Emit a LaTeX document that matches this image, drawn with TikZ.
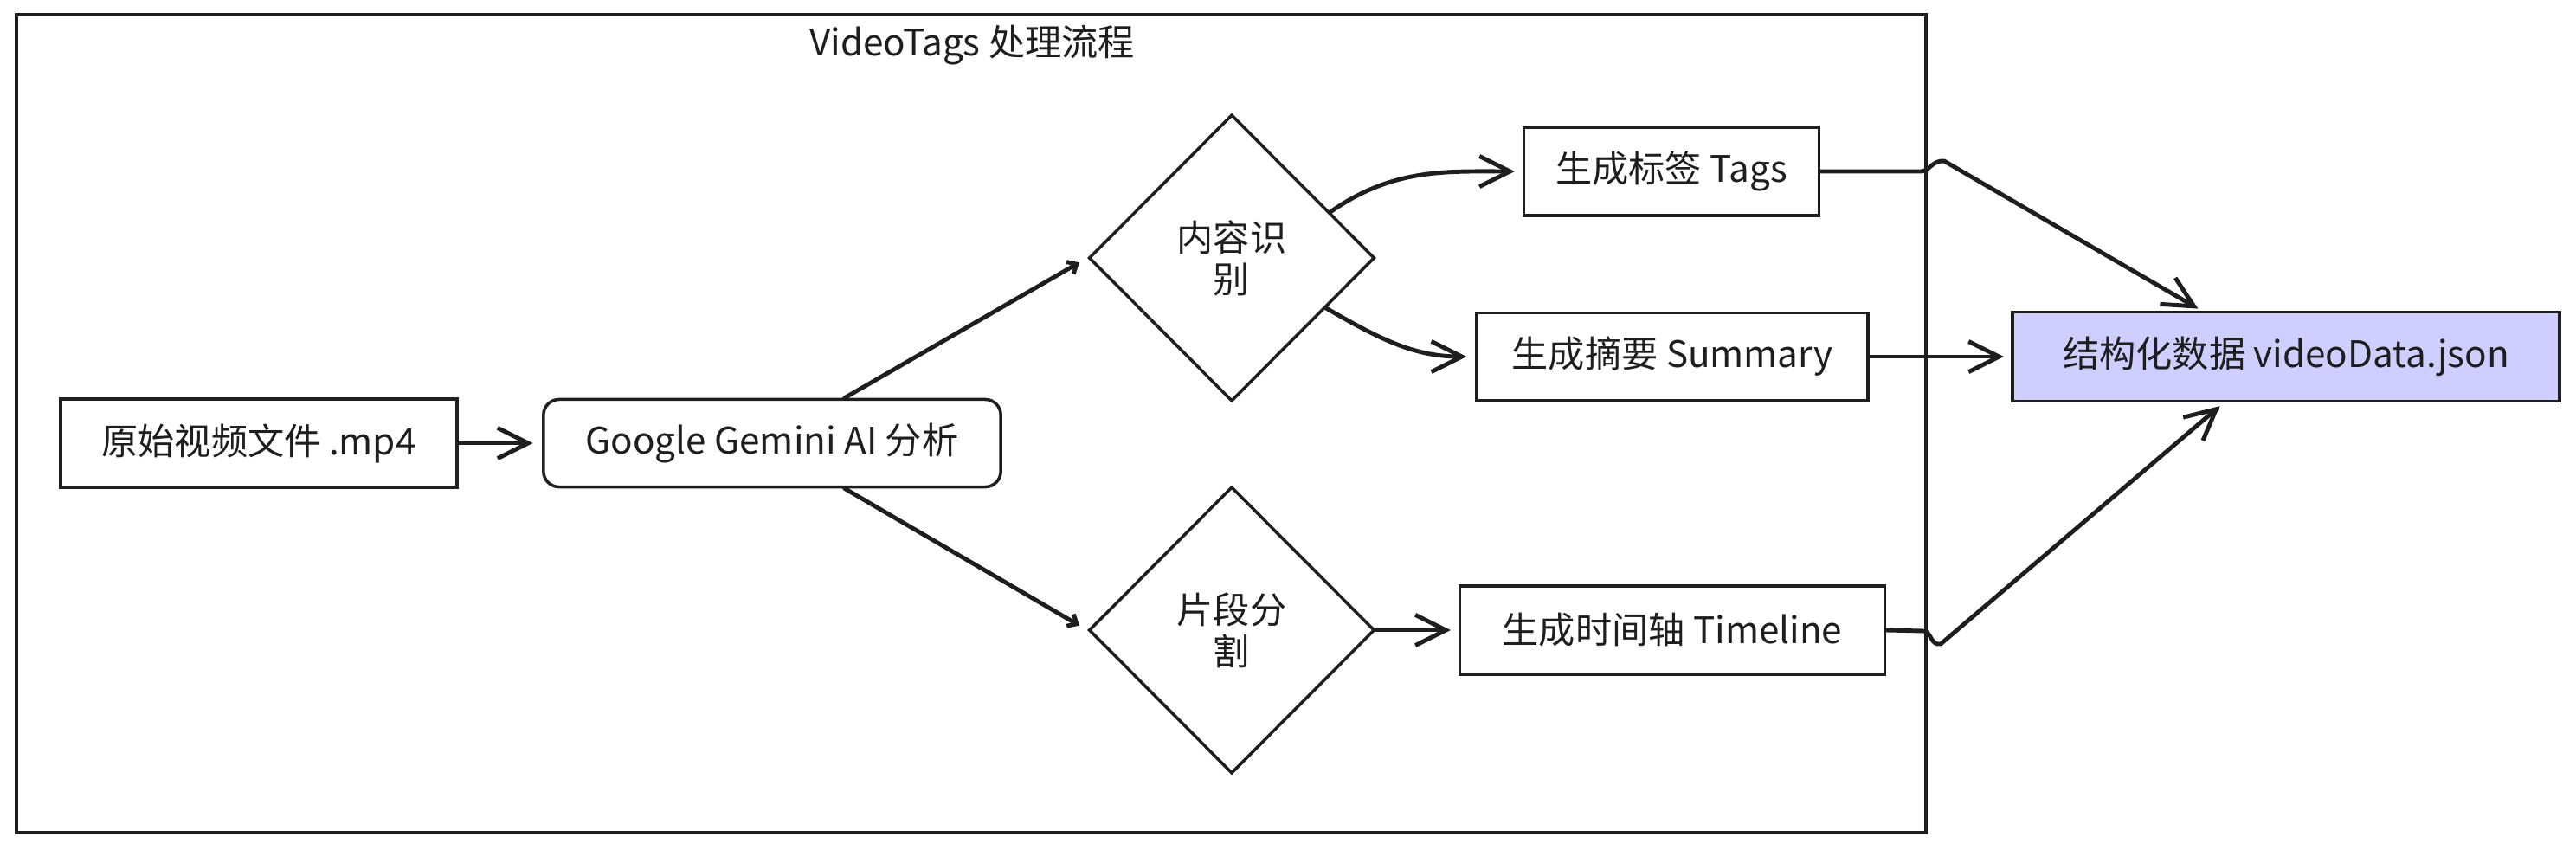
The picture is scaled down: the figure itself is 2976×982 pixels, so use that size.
\documentclass[tikz,border=0pt]{standalone}
\usepackage{fontspec}
\setmainfont{Noto Sans CJK SC}
\usetikzlibrary{shapes.geometric,arrows.meta,calc}
\definecolor{ink}{HTML}{1E1E1E}
\definecolor{lav}{RGB}{206,206,255}
\begin{document}
\begin{tikzpicture}[x=0.01cm,y=-0.01cm,
  every node/.style={font=\fontsize{12}{13.7}\selectfont, text=ink},
  box/.style={draw=ink, line width=1pt, rectangle, inner sep=0pt},
  dec/.style={draw=ink, line width=1pt, diamond, inner sep=0pt, minimum width=3.3cm, minimum height=3.31cm, align=center},
  conn/.style={draw=ink, line width=1.4pt, line cap=round, line join=round, -{Straight Barb[length=10pt,width=10pt]}},
  sconn/.style={draw=ink, line width=1.4pt, line cap=round, line join=round, -{Straight Barb[length=2.5pt,width=4.5pt]}}]
\useasboundingbox (0,0) rectangle (2976,982);
% frame
\draw[draw=ink, line width=1pt] (19,17) rectangle (2225,962);
\node (title) at (1123,52) {VideoTags 处理流程};
% nodes
\node[box, minimum width=4.58cm, minimum height=1.02cm] (mp4) at (299,512) {原始视频文件 .mp4};
\node[box, rounded corners=0.18cm, minimum width=5.28cm, minimum height=1.01cm] (gem) at (892,512) {Google Gemini AI 分析};
\node[dec] (dia1) at (1423,298) {内容识\\别};
\node[dec] (dia2) at (1423,728) {片段分\\割};
\node[box, minimum width=3.41cm, minimum height=1.02cm] (tags) at (1931,198) {生成标签 Tags};
\node[box, minimum width=4.52cm, minimum height=1.01cm] (sum) at (1932,412) {生成摘要 Summary};
\node[box, minimum width=4.91cm, minimum height=1.02cm] (tl) at (1932,728) {生成时间轴 Timeline};
\node[box, fill=lav, minimum width=6.32cm, minimum height=1.03cm] (json) at (2641,412) {结构化数据 videoData.json};
% hop coordinates
\coordinate (h1a) at (2219,198);
\coordinate (h1b) at (2246,186);
\coordinate (h2a) at (2222,729);
\coordinate (h2b) at (2242,744);
% connectors
\draw[conn, shorten >=3pt] (mp4.east) -- (gem.west);
\draw[sconn, shorten >=3pt] (gem.32) -- (dia1.west);
\draw[sconn, shorten >=3pt] (gem.-32) -- (dia2.west);
\draw[conn, shorten >=2.5pt] (dia1.25) to[out=35,in=180] (tags.west);
\draw[conn, shorten >=2.8pt] (dia1.-28) to[out=-30,in=180] (sum.west);
\draw[conn, shorten >=2.5pt] (dia2.east) -- (tl.west);
\draw[conn, shorten >=1.2pt] (tags.east) -- (h1a) .. controls (2229,198) and (2232,185) .. (h1b) -- ($(json.north west)+(220,0)$);
\draw[conn, shorten >=2.3pt] (sum.east) -- (json.west);
\draw[conn, shorten >=1.7pt] (tl.east) -- (h2a) .. controls (2231,729) and (2230,746) .. (h2b) -- ($(json.south west)+(246,0)$);
\end{tikzpicture}
\end{document}
